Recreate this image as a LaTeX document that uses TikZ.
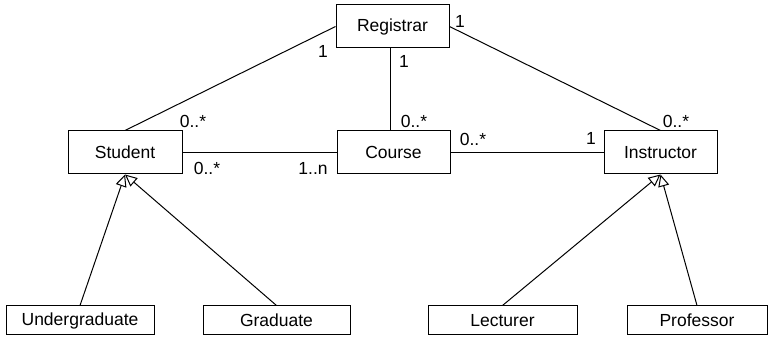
\documentclass[tikz,border=0pt]{standalone}
\usepackage{fontspec}
\setmainfont{Liberation Sans}
\usetikzlibrary{arrows.meta}
\begin{document}
\begin{tikzpicture}[x=1pt,y=-1pt,
  font=\fontsize{17.5}{20}\selectfont,
  classbox/.style={draw, line width=1pt, inner sep=0pt, minimum height=43pt},
  subbox/.style={draw, line width=1pt, inner sep=0pt, minimum height=29pt},
  assoc/.style={line width=1pt},
  inherit/.style={line width=1pt, -{Triangle[open, length=12pt, width=11pt, line width=1pt]}},
  mult/.style={inner sep=0pt, anchor=center}]
\useasboundingbox (0,0) rectangle (769,347);
% classes
\node[classbox, minimum width=113pt] (reg) at (392.5,26.5) {Registrar};
\node[classbox, minimum width=114pt] (stu) at (125,152.5) {Student};
\node[classbox, minimum width=113pt] (crs) at (393.5,152.5) {Course};
\node[classbox, minimum width=113pt] (ins) at (660.5,152.5) {Instructor};
% subclasses
\node[subbox, minimum width=148pt] (ug)  at (80,320.5) {Undergraduate};
\node[subbox, minimum width=147pt] (gr)  at (276.5,320.5) {Graduate};
\node[subbox, minimum width=149pt] (lec) at (502.5,320.5) {Lecturer};
\node[subbox, minimum width=140pt] (pro) at (697,320.5) {Professor};
% associations
\draw[assoc] (reg.west) -- (stu.north);
\draw[assoc] (reg.east) -- (ins.north);
\draw[assoc] (reg.south -| 390.5,0) -- (crs.north -| 390.5,0);
\draw[assoc] (stu.east) -- (crs.west);
\draw[assoc] (crs.east) -- (ins.west);
% generalizations
\draw[inherit] (ug.north) -- (stu.south);
\draw[inherit] (gr.north) -- (stu.south);
\draw[inherit] (lec.north) -- (ins.south);
\draw[inherit] (pro.north) -- (ins.south);
% multiplicities
\node[mult] (m1) at (323,51) {1};
\node[mult] (m2) at (460,21) {1};
\node[mult] (m3) at (404,61) {1};
\node[mult] (m4) at (193,121) {0..*};
\node[mult] (m5) at (207,168) {0..*};
\node[mult] (m6) at (313,168) {1..n};
\node[mult] (m7) at (414,121) {0..*};
\node[mult] (m8) at (473,139) {0..*};
\node[mult] (m9) at (591,138) {1};
\node[mult] (m10) at (676,121) {0..*};
\end{tikzpicture}
\end{document}
